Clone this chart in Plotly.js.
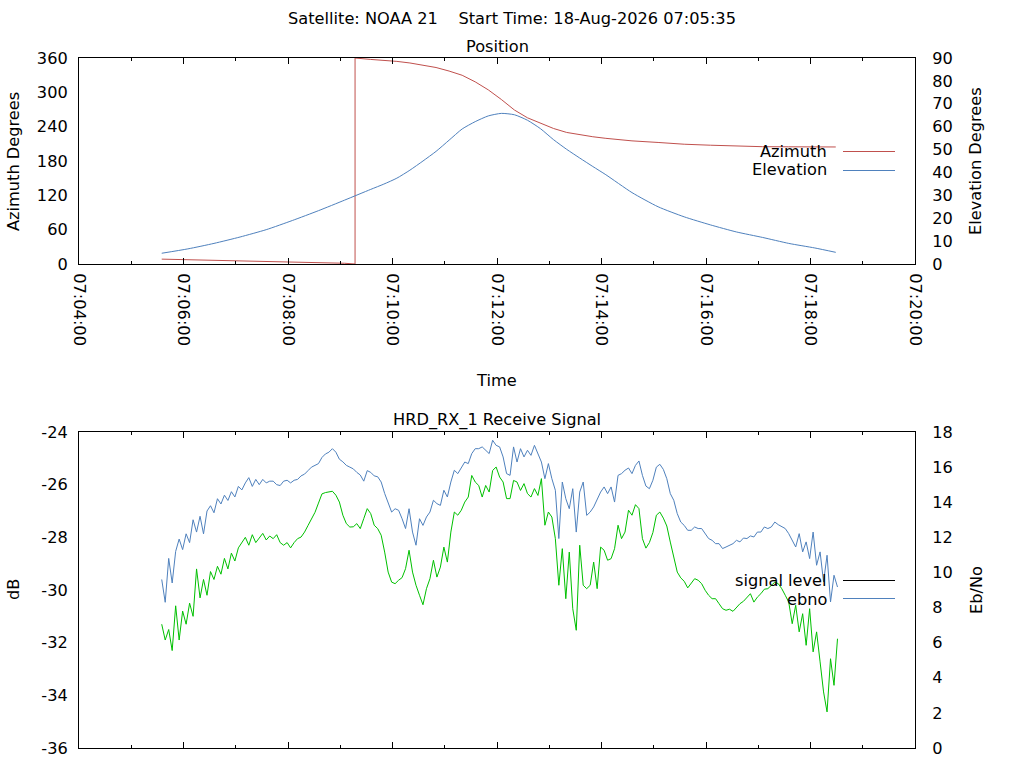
<!DOCTYPE html>
<html>
<head>
<meta charset="utf-8">
<script src="https://cdn.plot.ly/plotly-3.0.1.min.js"></script>
<style>
  body { margin: 0; background: #ffffff; }
  #myDiv { width: 1024px; height: 768px; }
</style>
</head>
<body>
<div id="myDiv"></div>
<script>
//  ======== DATA ========
var DAY = '2026-08-18 ';

// position samples (30 s, 15 s around culmination)
var POS_TIME = ['07:05:35','07:06:05','07:06:35','07:07:05','07:07:35','07:08:05','07:08:35','07:09:05',
  '07:09:35','07:09:50','07:10:05','07:10:20','07:10:35','07:10:50','07:11:05','07:11:20','07:11:35',
  '07:11:50','07:12:05','07:12:20','07:12:35','07:12:50','07:13:05','07:13:20','07:13:35','07:13:50',
  '07:14:05','07:14:35','07:15:05','07:15:35','07:16:05','07:16:35','07:17:05','07:17:35','07:18:05','07:18:29'];
var ELEVATION = [4.7, 6.6, 9.0, 11.8, 15.0, 19.0, 23.3, 27.9,
  32.6, 34.9, 37.5, 41.0, 45.0, 49.2, 54.1, 59.0, 62.2, 64.7, 65.8, 65.2, 62.8, 59.1, 54.3, 50.1, 46.3, 42.6, 39.0,
  31.2, 25.0, 20.6, 17.1, 14.0, 11.6, 9.0, 7.0, 5.1];

// azimuth wraps through north at 07:09:17
var AZ_TIME = ['07:05:35','07:06:05','07:06:35','07:07:05','07:07:35','07:08:05','07:08:35','07:09:05',
  '07:09:17','07:09:17',
  '07:09:35','07:09:50','07:10:05','07:10:20','07:10:35','07:10:50','07:11:05','07:11:20','07:11:35',
  '07:11:50','07:12:05','07:12:20','07:12:35','07:12:50','07:13:05','07:13:20','07:13:35','07:13:50',
  '07:14:05','07:14:35','07:15:05','07:15:35','07:16:05','07:16:35','07:17:05','07:17:35','07:18:05','07:18:29'];
var AZIMUTH = [8.5, 7.6, 6.8, 6.0, 5.0, 4.0, 2.8, 1.3, 0, 360,
  357.5, 355.9, 354.1, 351.3, 348, 343.4, 337.2, 329.8, 318.3, 304.3, 287.5, 269.1, 255.5, 245.5,
  236.8, 229.9, 225.5, 222.4, 219.6,
  215.2, 212.4, 209.3, 207.6, 206.0, 205, 204.8, 204.6, 204.5];

// receiver samples, one every 4 s from 07:05:35
var SIG_START = 7 * 3600 + 5 * 60 + 35;
var SIG_STEP = 4;

var EBNO = [
  9.6, 8.3, 10.8, 9.4, 11.2, 11.9, 11.3, 12.2, 11.7, 13.0,
  12.3, 13.2, 12.2, 13.5, 13.8, 13.4, 14.2, 13.9, 14.4, 14.1,
  14.6, 14.3, 14.9, 14.7, 15.1, 15.4, 14.9, 15.3, 15.0, 15.3,
  15.1, 15.2, 15.2, 15.0, 14.95, 15.2, 15.25, 15.1, 15.25, 15.3,
  15.5, 15.6, 15.8, 16.0, 16.1, 16.2, 16.55, 16.75, 16.85, 17.05,
  16.85, 16.45, 16.3, 16.1, 16.0, 15.9, 15.7, 15.55, 15.2, 15.8,
  15.7, 15.5, 15.45, 15.15, 14.5, 14.0,
  13.44, 13.63, 13.54, 13.06, 12.5, 13.63, 12.3, 11.55, 13.06, 12.68,
  13.16, 13.44, 14.11, 13.92, 13.82, 14.68, 14.3, 15.15, 15.82, 15.63,
  16.0, 16.29, 16.2, 16.77, 17.05, 17.05, 17.15, 16.96, 16.77, 17.53,
  17.24, 17.15, 16.58, 15.63, 15.53, 17.15, 16.29, 17.05, 16.58, 16.96,
  16.67, 17.24, 16.77, 16.29, 15.34, 16.2, 15.34, 14.68, 11.93, 15.15,
  14.2, 13.63, 14.77, 12.3, 14.58, 15.15, 13.25, 13.44, 13.73, 14.2,
  14.58, 14.87, 14.49, 14.87, 14.01, 15.53,
  15.63, 15.82, 15.95, 15.63, 16.1, 16.35, 15.53, 14.92, 14.77, 15.25,
  16.0, 16.16, 15.87, 15.34, 14.49, 14.11, 13.35, 12.87, 12.68, 12.4,
  12.4, 12.59, 12.5, 12.5, 12.21, 11.93, 11.83, 11.64, 11.64, 11.36,
  11.45, 11.55, 11.64, 11.83, 11.74, 11.96, 11.93, 12.08, 12.02, 12.3,
  12.3, 12.59, 12.5, 12.59, 12.87, 12.72, 12.59, 12.5, 12.21, 11.83,
  11.45, 12.21, 11.17, 11.74, 10.79, 12.3, 10.41, 11.17, 9.46, 10.98,
  8.32, 9.84, 9.17];

var SIGNAL_LEVEL = [
  -31.3, -31.9, -31.5, -32.3, -30.6, -31.9, -30.8, -31.3, -30.5, -31.0,
  -29.2, -30.3, -29.6, -30.2, -29.3, -29.6, -29.1, -29.4, -28.8, -29.2,
  -28.6, -28.9, -28.4, -28.2, -28.0, -28.3, -27.9, -28.2, -28.0, -27.85,
  -28.1, -27.95, -28.05, -27.9, -28.2, -28.3, -28.2, -28.4, -28.2, -28.05,
  -27.99, -27.8, -27.55, -27.3, -27.05, -26.7, -26.35, -26.3, -26.28, -26.25,
  -26.4, -26.66, -27.16, -27.48, -27.61, -27.6, -27.48, -27.67, -27.29, -26.91,
  -27.1, -27.54, -27.67, -27.92, -28.56, -29.32,
  -29.7, -29.76, -29.63, -29.53, -29.19, -28.49, -29.32, -29.82, -30.2, -30.56,
  -29.95, -29.57, -28.87, -29.51, -29.13, -28.37, -28.94, -27.8, -27.04, -27.16,
  -26.97, -26.66, -26.47, -25.65, -25.9, -26.03, -26.47, -26.03, -26.28, -25.46,
  -25.33, -25.71, -25.9, -26.53, -26.53, -25.84, -25.9, -26.22, -25.96, -26.34,
  -26.47, -26.15, -26.41, -25.77, -27.54, -27.04, -27.23, -28.05, -29.82, -28.43,
  -30.33, -28.56, -30.71, -31.53, -28.3, -29.82, -29.95, -29.82, -28.94, -29.95,
  -28.37, -28.49, -28.87, -28.81, -28.43, -27.54,
  -28.05, -27.8, -26.97, -27.16, -26.76, -26.91, -28.05, -28.41, -28.2, -27.82,
  -27.16, -27.04, -27.27, -27.57, -28.18, -28.81, -29.32, -29.54, -29.67, -29.92,
  -29.76, -29.57, -29.63, -29.76, -30.01, -30.2, -30.33, -30.33, -30.52, -30.71,
  -30.77, -30.73, -30.81, -30.65, -30.52, -30.43, -30.3, -30.14, -30.46, -30.27,
  -30.14, -29.97, -29.95, -29.82, -29.7, -29.76, -29.95, -30.2, -30.46, -31.28,
  -30.58, -31.59, -30.9, -32.1, -30.71, -32.35, -31.59, -32.73, -33.87, -34.63,
  -32.61, -33.62, -31.85];

var DB_TICKS = [-36, -34, -32, -30, -28, -26, -24];
var DB_LABELS = ['-36', '-34', '-32', '-30', '-28', '-26', '-24'];

//  ======== HELPERS ========
function pad(n) { return (n < 10 ? '0' : '') + n; }

function stamp(hms) { return DAY + hms; }

function sigTimes(n) {
  var out = [];
  for (var i = 0; i < n; i++) {
    var s = SIG_START + SIG_STEP * i;
    out.push(DAY + pad(Math.floor(s / 3600)) + ':' + pad(Math.floor(s / 60) % 60) + ':' + pad(s % 60));
  }
  return out;
}

var FONT = {family: 'DejaVu Sans, sans-serif', size: 16.2, color: '#000000'};
var W = 1024, H = 768;

function label(text, xpx, ypx, extra) {
  var a = {
    text: text, xref: 'paper', yref: 'paper',
    x: xpx / W, y: 1 - ypx / H,
    xanchor: 'center', yanchor: 'middle',
    showarrow: false, font: FONT
  };
  for (var k in extra) a[k] = extra[k];
  return a;
}

function keyLine(ypx, color) {
  return {type: 'line', xref: 'paper', yref: 'paper',
    x0: 843 / W, x1: 895 / W, y0: 1 - ypx / H, y1: 1 - ypx / H,
    line: {color: color, width: 1}};
}

function timeAxis(anchor, labels) {
  return {
    domain: [79 / W, 915 / W],
    anchor: anchor,
    type: 'date',
    range: [stamp('07:04:00'), stamp('07:20:00')],
    tick0: stamp('07:04:00'),
    dtick: 120000,
    tickformat: '%H:%M:%S',
    tickangle: 90,
    ticks: 'inside',
    ticklen: 6,
    tickcolor: '#000000',
    minor: {dtick: 60000, ticks: 'inside', ticklen: 3, tickcolor: '#000000', showgrid: false},
    showticklabels: labels,
    ticklabelstandoff: 5,
    tickfont: FONT,
    showline: true, linecolor: '#000000', linewidth: 1,
    mirror: 'ticks',
    showgrid: false, zeroline: false
  };
}

function valueAxis(top, bottom, range, dtick, side, overlay) {
  var ax = {
    domain: [1 - bottom / H, 1 - top / H],
    range: range,
    dtick: dtick,
    ticks: '',
    tickfont: FONT,
    ticklabelstandoff: side == 'right' ? 13 : 7,
    showline: true, linecolor: '#000000', linewidth: 1,
    showgrid: false, zeroline: false,
    side: side
  };
  if (overlay) ax.overlaying = overlay;
  return ax;
}

//  ======== PLOTLY ========
var RED = '#c0504d';
var BLUE = '#4f81bd';
var GREEN = '#00c000';

function generatePlot() {
  var sigT = sigTimes(SIGNAL_LEVEL.length);

  var azimuth = {
    x: AZ_TIME.map(stamp), y: AZIMUTH, xaxis: 'x', yaxis: 'y',
    type: 'scatter', mode: 'lines', name: 'Azimuth',
    line: {color: RED, width: 1}
  };
  var elevation = {
    x: POS_TIME.map(stamp), y: ELEVATION, xaxis: 'x', yaxis: 'y2',
    type: 'scatter', mode: 'lines', name: 'Elevation',
    line: {color: BLUE, width: 1, shape: 'spline', smoothing: 0.6}
  };
  var signal = {
    x: sigT, y: SIGNAL_LEVEL, xaxis: 'x2', yaxis: 'y3',
    type: 'scatter', mode: 'lines', name: 'signal level',
    line: {color: GREEN, width: 1}
  };
  var ebno = {
    x: sigT, y: EBNO, xaxis: 'x2', yaxis: 'y4',
    type: 'scatter', mode: 'lines', name: 'ebno',
    line: {color: BLUE, width: 1}
  };

  var yDb = valueAxis(432, 748, [-36, -24], 2, 'left');
  yDb.tickmode = 'array';
  yDb.tickvals = DB_TICKS;
  yDb.ticktext = DB_LABELS;

  var layout = {
    width: W, height: H,
    margin: {l: 0, r: 0, t: 0, b: 0},
    paper_bgcolor: '#ffffff',
    plot_bgcolor: '#ffffff',
    showlegend: false,
    font: FONT,
    title: {
      text: 'Satellite: NOAA 21\u00a0\u00a0\u00a0\u00a0Start Time: 18-Aug-2026 07:05:35',
      font: FONT, x: 0.5, xanchor: 'center', xref: 'paper',
      y: 1 - 18 / H, yanchor: 'middle', yref: 'paper'
    },
    xaxis: timeAxis('y', true),
    yaxis: valueAxis(58, 264, [0, 360], 60, 'left'),
    yaxis2: valueAxis(58, 264, [0, 90], 10, 'right', 'y'),
    xaxis2: timeAxis('y3', false),
    yaxis3: yDb,
    yaxis4: valueAxis(432, 748, [0, 18], 2, 'right', 'y3'),
    annotations: [
      label('Position', 497, 47),
      label('Time', 496, 380),
      label('HRD_RX_1 Receive Signal', 497, 420),
      label('Azimuth Degrees', 13, 162, {textangle: -90}),
      label('Elevation Degrees', 976, 161, {textangle: -90}),
      label('dB', 13, 590, {textangle: -90}),
      label('Eb/No', 976, 590, {textangle: -90}),
      label('Azimuth', 829, 151, {xanchor: 'right'}),
      label('Elevation', 829, 170, {xanchor: 'right'}),
      label('signal level', 829, 580, {xanchor: 'right'}),
      label('ebno', 829, 599, {xanchor: 'right'})
    ],
    shapes: [
      keyLine(151.5, RED),
      keyLine(170.5, BLUE),
      keyLine(580.5, '#000000'),
      keyLine(598.5, BLUE)
    ]
  };

  Plotly.newPlot('myDiv', [azimuth, elevation, signal, ebno], layout, {displayModeBar: false, staticPlot: true});
}

generatePlot();
</script>
</body>
</html>
